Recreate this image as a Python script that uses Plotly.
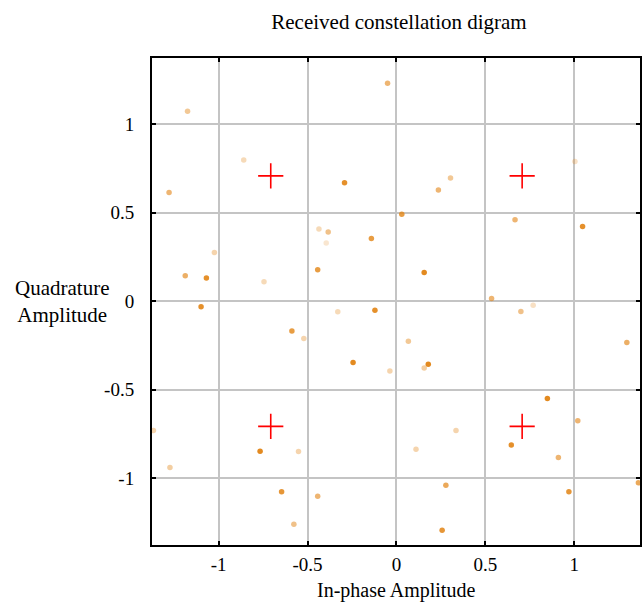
import plotly.graph_objects as go

# Received symbols (in-phase, quadrature, opacity level)
rx_i = [-0.05, -1.175, -0.859, -0.292, -1.279, -0.436, -0.384, -0.141, -0.395, -1.024,
        -1.188, -1.069, -0.443, -0.745, -1.099, 0.304, 0.236, 0.03, 1.004, 0.667,
        1.047, 0.156, 0.535, 0.769, 0.70, 1.296, 0.067, 0.179, 0.156, -0.037,
        0.849, 1.02, 0.646, 0.335, 0.11, 0.911, 0.278, 0.97, 1.361, 0.257,
        -0.33, -0.121, -0.588, -0.521, -0.244, -1.367, -0.767, -0.551, -1.274, -0.646,
        -0.443, -0.577]
rx_q = [1.23, 1.073, 0.797, 0.668, 0.614, 0.407, 0.39, 0.354, 0.328, 0.275,
        0.143, 0.13, 0.177, 0.109, -0.032, 0.695, 0.627, 0.49, 0.789, 0.459,
        0.422, 0.162, 0.015, -0.023, -0.058, -0.233, -0.226, -0.356, -0.377, -0.394,
        -0.55, -0.676, -0.812, -0.731, -0.836, -0.883, -1.04, -1.077, -1.026, -1.294,
        -0.06, -0.051, -0.169, -0.211, -0.347, -0.731, -0.847, -0.849, -0.94, -1.077,
        -1.102, -1.26]
rx_alpha = [0.6, 0.45, 0.3, 0.9, 0.6, 0.3, 0.5, 0.8, 0.2, 0.35,
            0.65, 0.9, 0.8, 0.3, 0.9, 0.45, 0.6, 0.8, 0.25, 0.6,
            0.9, 0.95, 0.6, 0.25, 0.5, 0.65, 0.45, 0.95, 0.4, 0.35,
            0.95, 0.6, 0.9, 0.35, 0.35, 0.6, 0.7, 0.85, 0.7, 0.85,
            0.3, 0.9, 0.8, 0.35, 0.95, 0.35, 0.95, 0.35, 0.4, 0.85,
            0.6, 0.5]

# Ideal QPSK constellation points
ref_i = [-0.7071, 0.7071, -0.7071, 0.7071]
ref_q = [0.7071, 0.7071, -0.7071, -0.7071]

x_ticks = [-1, -0.5, 0, 0.5, 1]
y_ticks = [-1, -0.5, 0, 0.5, 1]

font_family = "Liberation Serif, DejaVu Serif, serif"
FS = 21
TFS = 19

fig = go.Figure()
fig.add_trace(go.Scatter(
    x=rx_i, y=rx_q, mode="markers",
    marker=dict(color="rgb(226,132,20)", size=5.5, opacity=rx_alpha, line=dict(width=0)),
    showlegend=False, hoverinfo="x+y"))
fig.add_trace(go.Scatter(
    x=ref_i, y=ref_q, mode="markers",
    marker=dict(symbol="cross-thin", size=18, line=dict(color="red", width=1.6)),
    showlegend=False))

axis_common = dict(
    showgrid=True, gridcolor="#c4c4c4", gridwidth=1.5, zeroline=False,
    showline=True, linecolor="black", linewidth=2, mirror="ticks",
    ticks="inside", ticklen=4, tickwidth=1.5, tickcolor="black",
    tickfont=dict(family=font_family, size=TFS, color="black"),
)

fig.update_layout(
    width=643, height=602,
    margin=dict(l=152, r=1, t=58, b=57),
    paper_bgcolor="white", plot_bgcolor="white",
    title=dict(text="Received constellation digram", x=399/643, xanchor="center",
               y=1-22/602, yanchor="middle",
               font=dict(family=font_family, size=FS, color="black")),
    xaxis=dict(range=[-1.375, 1.37], tickvals=x_ticks, ticktext=[str(v) for v in x_ticks],
               ticklabelstandoff=1, **axis_common),
    yaxis=dict(range=[-1.377, 1.373], tickvals=y_ticks, ticktext=[str(v) for v in y_ticks],
               ticklabelstandoff=12, **axis_common),
    annotations=[
        dict(text="Quadrature<br>Amplitude", xref="paper", yref="y",
             x=-(152-61)/491, y=0.0, xanchor="center", yanchor="middle", showarrow=False,
             font=dict(family=font_family, size=FS, color="black")),
        dict(text="In-phase Amplitude", xref="x", yref="paper",
             x=0.0, y=-(590-545)/487, xanchor="center", yanchor="middle", showarrow=False,
             font=dict(family=font_family, size=20, color="black")),
    ],
)

fig.write_html("out.html")
